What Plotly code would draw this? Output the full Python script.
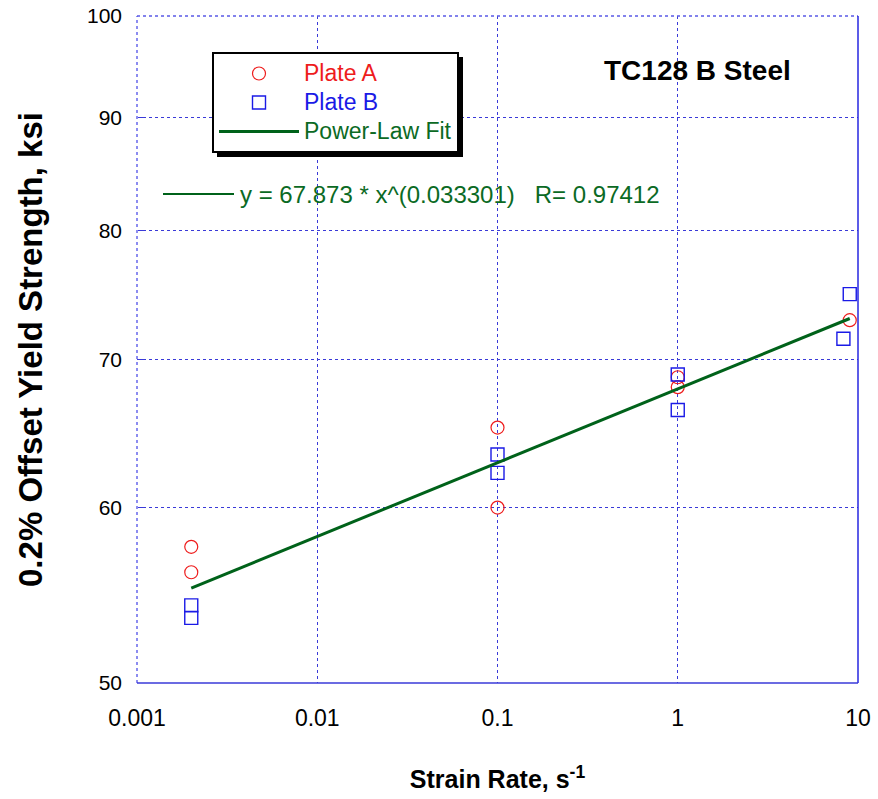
import numpy as np
import plotly.graph_objects as go

# Yield strength measurements (ksi) versus strain rate (1/s)
plate_a_rate = [0.002, 0.002, 0.1, 0.1, 1, 1, 9]
plate_a_ys = [57.6, 56.1, 65.2, 60.0, 68.7, 68.0, 72.9]

plate_b_rate = [0.002, 0.002, 0.1, 0.1, 1, 1, 9, 8.3]
plate_b_ys = [54.2, 53.5, 63.4, 62.2, 68.9, 66.4, 74.9, 71.5]

# Power-law fit  y = A * x^n
fit_coef = 67.873
fit_exp = 0.033301
fit_r = 0.97412
fit_rate = [0.002, 9]

x_ticks = [0.001, 0.01, 0.1, 1, 10]
x_tick_text = ["0.001", "0.01", "0.1", "1", "10"]
y_ticks = [50, 60, 70, 80, 90, 100]

RED = "#ee1c1c"
BLUE = "#1a1ae6"
GREEN = "#0b6a24"
LINE_GREEN = "#00621a"
GRID = "#3a3ad8"
FONT = "Liberation Sans, Arial, sans-serif"

# plot-area geometry in pixels (used to place paper-anchored decorations)
L, R, T, B = 137, 858, 16, 683
W, H = R - L, B - T


def px(x):
    return (x - L) / W


def py(y):
    return (B - y) / H


def legend_label(text, color):
    return f"<span style='color:{color};font-size:23px'>{text}</span>"


fit_x = np.logspace(np.log10(fit_rate[0]), np.log10(fit_rate[1]), 60)
fit_y = fit_coef * fit_x ** fit_exp

fig = go.Figure()
fig.add_trace(go.Scatter(
    x=plate_a_rate, y=plate_a_ys, mode="markers",
    name=legend_label("Plate A", RED),
    marker=dict(symbol="circle-open", size=13, color=RED, line=dict(width=1.2, color=RED)),
))
fig.add_trace(go.Scatter(
    x=plate_b_rate, y=plate_b_ys, mode="markers",
    name=legend_label("Plate B", BLUE),
    marker=dict(symbol="square-open", size=13, color=BLUE, line=dict(width=1.4, color=BLUE)),
))
fig.add_trace(go.Scatter(
    x=fit_x, y=fit_y, mode="lines",
    name=legend_label("Power-Law Fit", GREEN),
    line=dict(color=LINE_GREEN, width=3),
))

shapes = []
# plot frame: each side styled separately
shapes.append(dict(type="line", xref="paper", yref="paper", x0=0, x1=0, y0=0, y1=1,
                   line=dict(color="#8c8cf0", width=2, dash="dot")))
shapes.append(dict(type="line", xref="paper", yref="paper", x0=0, x1=1, y0=1, y1=1,
                   line=dict(color="#5a5ae6", width=1.5, dash="dot")))
shapes.append(dict(type="line", xref="paper", yref="paper", x0=1, x1=1, y0=0, y1=1,
                   line=dict(color="#2626e0", width=1.5)))
shapes.append(dict(type="line", xref="paper", yref="paper", x0=0, x1=1, y0=0, y1=0,
                   line=dict(color="#3a3ad8", width=1.5)))
# legend drop shadow
shapes.append(dict(type="rect", xref="paper", yref="paper",
                   x0=px(217), x1=px(463), y0=py(157), y1=py(57),
                   fillcolor="black", line=dict(width=0), layer="above"))
# sample line for the fit equation
shapes.append(dict(type="line", xref="paper", yref="paper",
                   x0=px(163), x1=px(234), y0=py(194), y1=py(194),
                   line=dict(color=LINE_GREEN, width=2)))

annotations = [
    dict(text="TC128 B Steel", xref="paper", yref="paper",
         x=px(697), y=py(70), xanchor="center", yanchor="middle", showarrow=False,
         font=dict(family=FONT, size=28, color="black", weight="bold")),
    dict(text=f"y = {fit_coef} * x^({fit_exp})   R= {fit_r}", xref="paper", yref="paper",
         x=px(238), y=py(194), xanchor="left", yanchor="middle", showarrow=False,
         font=dict(family=FONT, size=24, color=GREEN)),
]

fig.update_layout(
    width=878, height=799,
    margin=dict(l=L, r=878 - R, t=T, b=799 - B),
    paper_bgcolor="white", plot_bgcolor="white",
    font=dict(family=FONT, color="black"),
    shapes=shapes,
    annotations=annotations,
    showlegend=True,
    legend=dict(
        x=px(212), y=py(52), xanchor="left", yanchor="top",
        bgcolor="white", bordercolor="black", borderwidth=2,
        font=dict(family=FONT, size=20),
        itemwidth=80, tracegroupgap=0,
    ),
    xaxis=dict(
        type="log", range=[-3, 1], automargin=False,
        tickvals=x_ticks, ticktext=x_tick_text,
        showgrid=True, gridcolor=GRID, griddash="dot", gridwidth=1,
        zeroline=False, showline=False, ticks="",
        ticklabelstandoff=19,
        tickfont=dict(family="Liberation Sans Narrow, " + FONT, size=23),
        title=dict(text="Strain Rate, s<sup>-1</sup>", standoff=40,
                   font=dict(family=FONT, size=25, weight="bold")),
    ),
    yaxis=dict(
        type="log", range=[np.log10(50), 2], automargin=False,
        tickvals=y_ticks, ticktext=[str(v) for v in y_ticks],
        showgrid=True, gridcolor=GRID, griddash="dot", gridwidth=1,
        zeroline=False, showline=False, ticks="inside", ticklen=6, tickcolor=GRID,
        ticklabelstandoff=14,
        tickfont=dict(family=FONT, size=21),
        title=dict(text="0.2% Offset Yield Strength, ksi", standoff=34,
                   font=dict(family=FONT, size=33, weight="bold")),
    ),
)

fig.write_html("out.html")
